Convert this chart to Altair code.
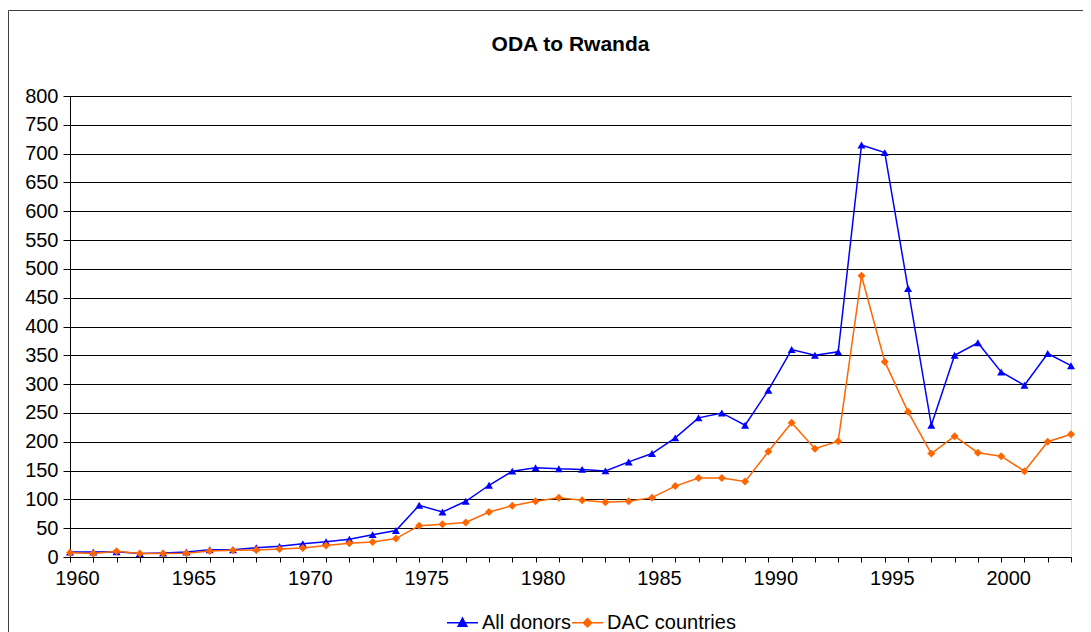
import altair as alt
import pandas as pd

years = [1960, 1961, 1962, 1963, 1964, 1965, 1966, 1967, 1968, 1969,
         1970, 1971, 1972, 1973, 1974, 1975, 1976, 1977, 1978, 1979,
         1980, 1981, 1982, 1983, 1984, 1985, 1986, 1987, 1988, 1989,
         1990, 1991, 1992, 1993, 1994, 1995, 1996, 1997, 1998, 1999,
         2000, 2001, 2002, 2003]
all_donors = [8.7, 8.7, 9, 6, 7, 8.7, 12.7, 12.7, 16, 18.5,
              23, 26.6, 30.7, 38.8, 46, 89.7, 78, 96.7, 124.5, 149,
              155, 153, 152, 149.4, 165, 179.5, 206.7, 241.5, 250, 228.7,
              289.5, 360, 350, 356, 715, 701.7, 466, 228.7, 350, 371.7,
              321, 298, 353, 332]
dac_countries = [7.5, 6, 10, 6, 6, 6.4, 10.4, 11.6, 12, 14,
                 15.6, 20, 24, 26, 32, 54.4, 56.7, 60, 78, 89,
                 96.7, 103, 98.5, 95, 96.7, 103, 123, 137, 137, 131,
                 183, 233, 188, 201, 488, 339, 252, 179.5, 209.6, 181,
                 175, 149, 200, 213]
series_names = ["All donors", "DAC countries"]
y_ticks = [0, 50, 100, 150, 200, 250, 300, 350, 400, 450, 500, 550, 600, 650, 700, 750, 800]

BLUE = "#0000FF"
ORANGE = "#FF6600"
FONT = "Liberation Sans"

rows = []
for name, vals in zip(series_names, [all_donors, dac_countries]):
    for yr, v in zip(years, vals):
        rows.append({"year": yr, "value": v, "series": name})
df = pd.DataFrame(rows)
legend_df = pd.DataFrame({"series": series_names})
frame_df = pd.DataFrame({"k": [0]})

x_enc = alt.X(
    "year:Q",
    scale=alt.Scale(domain=[1960, 2003], nice=False, zero=False),
    axis=alt.Axis(
        title=None, values=years, format="d",
        labelExpr="datum.value % 5 == 0 ? datum.value : ''",
        labelOverlap=False, labelFlush=False, labelBound=False,
        tickSize=5, tickColor="#000000", domainColor="#000000",
        labelFontSize=20, labelFont=FONT, labelColor="#000000",
        labelPadding=6, labelOffset=7, grid=False,
    ),
)
y_enc = alt.Y(
    "value:Q",
    scale=alt.Scale(domain=[0, 800], nice=False),
    axis=alt.Axis(
        title=None, values=y_ticks, format="d",
        tickSize=7, tickColor="#000000", domainColor="#000000",
        labelFontSize=20, labelFont=FONT, labelColor="#000000",
        labelPadding=5, grid=True, gridColor="#000000", gridWidth=1,
        labelOverlap=False,
    ),
)

base = alt.Chart(df).encode(x=x_enc, y=y_enc)

all_base = base.transform_filter(alt.datum.series == "All donors")
dac_base = base.transform_filter(alt.datum.series == "DAC countries")

line_all = all_base.mark_line(strokeWidth=1.5, color=BLUE)
pts_all = all_base.mark_point(shape="triangle-up", filled=True, size=64, opacity=1, color=BLUE)
line_dac = dac_base.mark_line(strokeWidth=1.5, color=ORANGE)
pts_dac = dac_base.mark_point(shape="diamond", filled=True, size=64, opacity=1, color=ORANGE)

tri_path = "M-1,0H1M0,-0.3L0.28,0.22H-0.28Z"
dia_path = "M-1,0H1M0,-0.27L0.27,0L0,0.27L-0.27,0Z"

leg = alt.Legend(
    title=None, orient="none", legendX=376, legendY=510, direction="horizontal",
    symbolSize=961, symbolStrokeWidth=1.5, symbolOpacity=1,
    labelFontSize=20, labelFont=FONT, labelColor="#000000",
    labelOffset=3, columnPadding=-29, padding=0,
)
legend_layer = alt.Chart(legend_df).mark_point(filled=True, size=0).encode(
    shape=alt.Shape("series:N", scale=alt.Scale(domain=series_names, range=[tri_path, dia_path]), legend=leg),
    fill=alt.Fill("series:N", scale=alt.Scale(domain=series_names, range=[BLUE, ORANGE]), legend=leg),
    stroke=alt.Stroke("series:N", scale=alt.Scale(domain=series_names, range=[BLUE, ORANGE]), legend=leg),
)

frame = alt.Chart(frame_df).mark_rect(filled=False, stroke="#404040", strokeWidth=1).encode(
    x=alt.value(-61.5), x2=alt.value(1200), y=alt.value(-85.5), y2=alt.value(700),
)

chart = alt.layer(frame, line_all, pts_all, line_dac, pts_dac, legend_layer).properties(
    width=1001, height=461,
    title=alt.TitleParams("ODA to Rwanda", fontSize=21, font=FONT, fontWeight="bold",
                          anchor="middle", baseline="alphabetic", offset=-62, color="#000000"),
    autosize=alt.AutoSizeParams(type="none"),
    padding={"left": 62, "top": 88, "right": 12, "bottom": 78},
).configure_view(strokeWidth=0).configure(background="#FFFFFF")

chart.save("out.html", embed_options={"renderer": "svg", "actions": False})
